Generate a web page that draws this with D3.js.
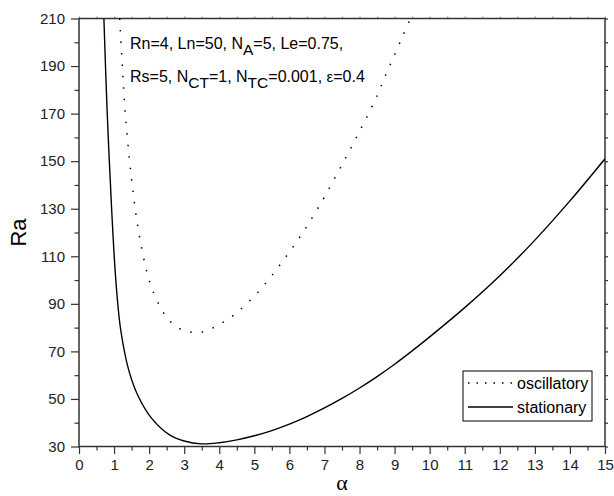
<!DOCTYPE html>
<html>
<head>
<meta charset="utf-8">
<script src="https://cdn.jsdelivr.net/npm/d3@7"></script>
<style>
  body { margin: 0; background: #fff; }
  svg { display: block; font-family: "Liberation Sans", Arial, sans-serif; }
</style>
</head>
<body>
<div id="plot"></div>
<script>
// values
const stat_alpha = [0.71, 0.8, 0.92, 1.05, 1.19, 1.43, 1.71, 2.09, 2.57, 3.0, 3.5, 4.0, 4.5,
                    5.0, 5.5, 6.0, 6.5, 7.0, 7.5, 8.0, 8.5, 9.0, 9.5, 10, 11, 12, 13, 14, 15];
const stat_ra    = [210, 172, 133, 100, 79, 61.5, 50.5, 41.5, 35, 32.3, 31.1, 31.6, 32.8,
                    34.5, 36.7, 39.4, 42.6, 46.2, 50.2, 54.6, 59.4, 64.6, 70.2, 76.1, 88.4, 101.8, 116.8, 133.3, 151];
const osc_alpha  = [1.16, 1.24, 1.33, 1.48, 1.62, 1.73, 1.9, 2.09, 2.38, 2.62, 2.92, 3.24, 3.54,
                    3.85, 4.15, 4.46, 4.76, 5.07, 5.33, 5.58, 5.81, 6.03, 6.24, 6.44, 6.63, 6.82,
                    7.0, 7.5, 8.0, 8.5, 8.69, 8.96, 9.23, 9.42];
const osc_ra     = [210, 189, 168, 145, 128, 118, 105.5, 96, 87, 82.3, 79.2, 78, 78.3,
                    80.1, 82.6, 85.8, 89.8, 94.3, 98.8, 103.4, 108, 112.4, 116.8, 121.3, 125.8, 130.4,
                    135, 148.5, 162.5, 177.5, 184.3, 193.5, 202.5, 209];
const x_ticks = d3.range(0, 16, 1);
const y_ticks = d3.range(30, 211, 20);
const series_names = ['oscillatory', 'stationary'];
const params_1 = [['Rn=4, Ln=50, N'], ['A', 'sub'], ['=5, Le=0.75,']];
const params_2 = [['Rs=5, N'], ['CT', 'sub'], ['=1, N'], ['TC', 'sub'], ['=0.001, '], ['\u03b5', 'eps'], ['=0.4']];

const width = 614, height = 496;
const margin = { top: 18.5, right: 9, bottom: 49.5, left: 79 };

const sx = d3.scaleLinear().domain([0, 15])
  .range([margin.left, width - margin.right]);
const sy = d3.scaleLinear().domain([30, 210])
  .range([height - margin.bottom, margin.top]);

const svg = d3.select('#plot').append('svg')
  .attr('width', width).attr('height', height)
  .attr('viewBox', [0, 0, width, height]);

svg.append('clipPath').attr('id', 'clip')
  .append('rect')
  .attr('x', sx(0)).attr('y', sy(210))
  .attr('width', sx(15) - sx(0)).attr('height', sy(30) - sy(210));

// Axes ==============================================================
const axis_col = '#333';
const x_minor = d3.range(0.5, 15, 1);
const y_minor = d3.range(40, 210, 20);

function style_axis(g, fs) {
  g.select('.domain').remove();
  g.selectAll('line').attr('stroke', axis_col).attr('stroke-width', 1.2);
  g.selectAll('text').attr('fill', '#222')
    .style('font-size', fs + 'px')
    .style('font-family', '"Liberation Sans", Arial, sans-serif');
}

svg.append('g')
  .attr('transform', `translate(0,${sy(30)})`)
  .call(d3.axisBottom(sx).tickValues(x_ticks).tickFormat(d3.format('d'))
    .tickSize(7.5).tickPadding(5))
  .call(g => style_axis(g, 15));
svg.append('g')
  .attr('transform', `translate(0,${sy(30)})`)
  .call(d3.axisBottom(sx).tickValues(x_minor).tickFormat('').tickSize(4))
  .call(g => style_axis(g, 15));

svg.append('g')
  .attr('transform', `translate(${sx(0)},0)`)
  .call(d3.axisLeft(sy).tickValues(y_ticks).tickSize(8).tickPadding(6))
  .call(g => style_axis(g, 15));
svg.append('g')
  .attr('transform', `translate(${sx(0)},0)`)
  .call(d3.axisLeft(sy).tickValues(y_minor).tickFormat('').tickSize(4.5))
  .call(g => style_axis(g, 15));

// top and right: small ticks only
svg.append('g')
  .attr('transform', `translate(0,${sy(210)})`)
  .call(d3.axisTop(sx).tickValues(d3.range(0, 15.01, 0.5)).tickFormat('').tickSize(2))
  .call(g => style_axis(g, 15))
  .call(g => g.selectAll('line').attr('stroke', '#999'));
svg.append('g')
  .attr('transform', `translate(${sx(15)},0)`)
  .call(d3.axisRight(sy).tickValues(d3.range(30, 211, 10)).tickFormat('').tickSize(3))
  .call(g => style_axis(g, 15));

// frame
svg.append('rect')
  .attr('x', sx(0)).attr('y', sy(210))
  .attr('width', sx(15) - sx(0)).attr('height', sy(30) - sy(210))
  .attr('fill', 'none').attr('stroke', axis_col).attr('stroke-width', 1.5);

// axis titles
svg.append('text')
  .attr('x', (sx(0) + sx(15)) / 2).attr('y', height - 6)
  .attr('text-anchor', 'middle')
  .style('font-family', '"Liberation Serif", serif')
  .style('font-size', '22px')
  .text('\u03b1');
svg.append('text')
  .attr('transform', `translate(26,${(sy(30) + sy(210)) / 2}) rotate(-90)`)
  .attr('text-anchor', 'middle')
  .style('font-size', '22px')
  .text('Ra');

// Curves ============================================================
const line = d3.line()
  .x(d => sx(d[0])).y(d => sy(d[1]))
  .curve(d3.curveCatmullRom.alpha(0.5));

const curves = svg.append('g').attr('clip-path', 'url(#clip)')
  .attr('fill', 'none').attr('stroke', '#000');

curves.append('path')
  .attr('d', line(d3.zip(osc_alpha, osc_ra)))
  .attr('stroke-width', 1.5)
  .attr('stroke-dasharray', '1.5 10');
curves.append('path')
  .attr('d', line(d3.zip(stat_alpha, stat_ra)))
  .attr('stroke-width', 1.4);

// Legend ============================================================
const lg = svg.append('g').attr('transform', 'translate(463,371)');
lg.append('rect')
  .attr('width', 129).attr('height', 50)
  .attr('fill', '#fff').attr('stroke', '#000').attr('stroke-width', 1);
series_names.forEach((name, i) => {
  const y = 12 + i * 24;
  lg.append('line')
    .attr('x1', 5).attr('x2', 50).attr('y1', y).attr('y2', y)
    .attr('stroke', '#000').attr('stroke-width', i ? 1.4 : 1.5)
    .attr('stroke-dasharray', i ? null : '1.5 7');
  lg.append('text')
    .attr('x', 54).attr('y', y + 5.5)
    .style('font-size', '16px')
    .text(name);
});

// Parameters text ===================================================
function rich_text(parts, x, y) {
  const t = svg.append('text').attr('x', x).attr('y', y)
    .style('font-size', '16px');
  let shifted = false;
  for (const [s, kind] of parts) {
    const ts = t.append('tspan').text(s);
    if (kind === 'sub') {
      ts.attr('dy', 6).style('font-size', '15.5px');
      shifted = true;
    } else {
      if (shifted) ts.attr('dy', -6);
      shifted = false;
      if (kind === 'eps') ts.style('font-size', '15px');
    }
  }
}
rich_text(params_1, 130, 49);
rich_text(params_2, 130, 82);
</script>
</body>
</html>
